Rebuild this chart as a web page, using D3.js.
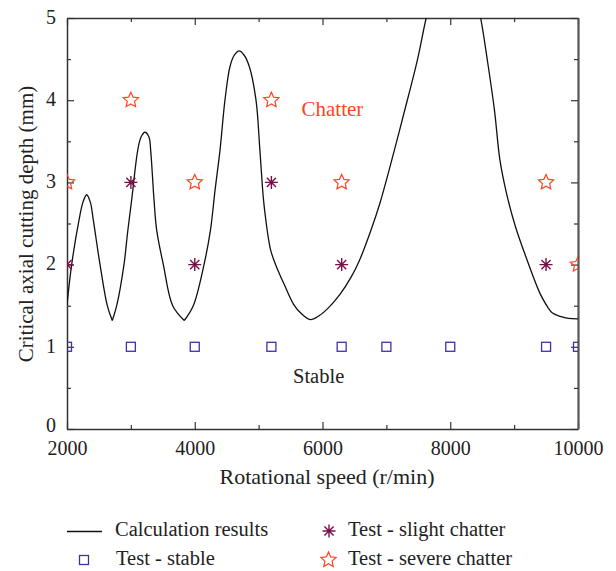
<!DOCTYPE html>
<html><head><meta charset="utf-8">
<script src="https://cdn.jsdelivr.net/npm/d3@7"></script>
<style>body{margin:0;background:#fff}svg{display:block}text{font-family:"Liberation Serif","DejaVu Serif",serif;fill:#222}</style>
</head><body><svg id="c" width="616" height="571"></svg>
<script>
// ---- data ----
const xMajorTicks = [2000, 4000, 6000, 8000, 10000];
const yMajorTicks = [0, 1, 2, 3, 4, 5];
// calculated stability lobes (branch index splits the curve at cusps)
const calcSpeed = [2000,2073,2188,2250,2308,2365,2412,2517,2631,2709,
  2709,2778,2892,2950,3013,3107,3158,3221,3284,3310,3362,3404,3508,3655,3836,
  3836,3977,4145,4246,4317,4395,4473,4552,4622,4697,4771,4854,4959,5020,5075,5125,5155,5190,5260,5330,5400,5545,5660,5810,5950,6100,6276,6450,6578,6750,6900,7050,7278,7486,7623,7850,8050,8280,8476,8580,8692,8778,8880,9021,9201,9405,9535,
  9535,9600,9721,9850,10000];
const calcDepth = [1.51,2.00,2.54,2.76,2.85,2.76,2.54,2.00,1.50,1.32,
  1.32,1.50,2.00,2.40,2.79,3.39,3.55,3.61,3.55,3.39,2.79,2.42,2.00,1.50,1.32,
  1.32,1.50,2.00,2.42,2.90,3.39,4.00,4.41,4.55,4.60,4.55,4.41,4.00,3.39,2.80,2.47,2.31,2.17,2.01,1.88,1.76,1.52,1.41,1.33,1.38,1.48,1.64,1.85,2.05,2.40,2.75,3.17,3.85,4.49,5.00,5.70,5.95,5.70,5.00,4.49,3.88,3.27,2.87,2.46,2.06,1.65,1.47,
  1.47,1.41,1.37,1.345,1.34];
const calcBranch = [0,0,0,0,0,0,0,0,0,0,
  1,1,1,1,1,1,1,1,1,1,1,1,1,1,1,
  2,2,2,2,2,2,2,2,2,2,2,2,2,2,2,2,2,2,2,2,2,2,2,2,2,2,2,2,2,2,2,2,2,2,2,2,2,2,2,2,2,2,2,2,2,2,2,
  3,3,3,3,3];
const stableSpeed = [2000,3000,4000,5200,6300,7000,8000,9500,10000];
const stableDepth = [1,1,1,1,1,1,1,1,1];
const slightSpeed = [2000,3000,4000,5200,6300,9500];
const slightDepth = [2,3,2,3,2,2];
const severeSpeed = [2000,3000,4000,5200,6300,9500,10000];
const severeDepth = [3,4,3,4,3,3,2];
const legendLabels = ["Calculation results","Test - stable","Test - slight chatter","Test - severe chatter"];

// ---- layout ----
const svg = d3.select("#c");
const L = 67, R = 578, T = 18, B = 429;
const x = d3.scaleLinear().domain([2000,10000]).range([L,R]);
const y = d3.scaleLinear().domain([0,5]).range([B,T]);
const cSquare = "#3d33a6", cAst = "#7a1048", cStar = "#ff4422";

svg.append("clipPath").attr("id","clip").append("rect")
  .attr("x",L).attr("y",T).attr("width",R-L).attr("height",B-T);

// axes
const xMinor = d3.range(3000,10000,2000);
const yMinor = d3.range(0.5,5,1);
function styleAxis(g){
  g.selectAll(".domain").attr("stroke","#333").attr("stroke-width",1.5);
  g.selectAll(".tick line").attr("stroke","#333").attr("stroke-width",1.2);
  g.selectAll("text").attr("font-size",20).attr("font-family",'"Liberation Serif",serif').attr("fill","#222");
}
function axisPair(gen, scale, major, minor, tf, showLabels){
  const g = svg.append("g").attr("transform",tf);
  g.call(gen(scale).tickValues(major).tickSizeInner(-7).tickSizeOuter(0).tickPadding(showLabels?11:0)
    .tickFormat(showLabels? d3.format("d") : ""));
  g.call(s=>styleAxis(s));
  const g2 = svg.append("g").attr("transform",tf);
  g2.call(gen(scale).tickValues(minor).tickSizeInner(-4).tickSizeOuter(0).tickFormat(""));
  g2.select(".domain").remove();
  g2.call(s=>styleAxis(s));
  return g;
}
const bAx = axisPair(d3.axisBottom, x, xMajorTicks, xMinor, `translate(0,${B})`, true);
bAx.selectAll(".tick text").attr("dy","0.74em");
axisPair(d3.axisTop, x, xMajorTicks, xMinor, `translate(0,${T})`, false);
const lAx = axisPair(d3.axisLeft, y, yMajorTicks, yMinor, `translate(${L},0)`, true);
lAx.selectAll(".tick text").attr("dy", d => d === 0 ? "0.1em" : "0.26em");
const rAx = axisPair(d3.axisRight, y, yMajorTicks, yMinor, `translate(${R},0)`, false);
rAx.select(".domain").attr("stroke","#555").attr("stroke-width",2.2);

// axis titles
svg.append("text").attr("x",327).attr("y",484).attr("text-anchor","middle")
  .attr("font-size",22).text("Rotational speed (r/min)");
svg.append("text").attr("transform","translate(33,224) rotate(-90)").attr("text-anchor","middle")
  .attr("font-size",21).text("Critical axial cutting depth (mm)");

// region labels
svg.append("text").attr("x",301.5).attr("y",115.5).attr("font-size",21).style("fill",cStar).text("Chatter");
svg.append("text").attr("x",293).attr("y",382.5).attr("font-size",20.5).text("Stable");

// curve
const plot = svg.append("g").attr("clip-path","url(#clip)");
const pts = calcSpeed.map((s,i)=>({s, d:calcDepth[i], b:calcBranch[i]}));
const line = d3.line().x(p=>x(p.s)).y(p=>y(p.d)).curve(d3.curveCatmullRom.alpha(0.5));
d3.groups(pts, p=>p.b).forEach(([b,arr])=>{
  plot.append("path").attr("d",line(arr)).attr("fill","none").attr("stroke","#111").attr("stroke-width",1.3);
});

// marker drawers
function squareAt(g,cx,cy){
  g.append("rect").attr("x",cx-4.5).attr("y",cy-4.5).attr("width",9).attr("height",9)
    .attr("fill","none").attr("stroke",cSquare).attr("stroke-width",1.3);
}
function asteriskAt(g,cx,cy){
  const r=6.5, p=d3.path();
  for(let k=0;k<4;k++){const a=k*Math.PI/4; p.moveTo(cx-r*Math.cos(a),cy-r*Math.sin(a)); p.lineTo(cx+r*Math.cos(a),cy+r*Math.sin(a));}
  g.append("path").attr("d",p.toString()).attr("stroke",cAst).attr("stroke-width",1.4).attr("fill","none");
}
function starAt(g,cx,cy){
  const ro=8, ri=3.8, p=d3.path();
  for(let k=0;k<10;k++){const r=k%2?ri:ro, a=-Math.PI/2+k*Math.PI/5;
    const px=cx+r*Math.cos(a), py=cy+r*Math.sin(a); k?p.lineTo(px,py):p.moveTo(px,py);}
  p.closePath();
  g.append("path").attr("d",p.toString()).attr("stroke",cStar).attr("stroke-width",1.2).attr("fill","none").attr("stroke-linejoin","miter");
}
stableSpeed.forEach((s,i)=>squareAt(plot,x(s),y(stableDepth[i])));
slightSpeed.forEach((s,i)=>asteriskAt(plot,x(s),y(slightDepth[i])));
severeSpeed.forEach((s,i)=>starAt(plot,x(s),y(severeDepth[i])));

// legend
const lg = svg.append("g");
lg.append("line").attr("x1",67).attr("x2",102).attr("y1",531.5).attr("y2",531.5).attr("stroke","#111").attr("stroke-width",1.3);
squareAt(lg,84,560);
asteriskAt(lg,329,531);
starAt(lg,328.5,560);
[[115,536],[116,565],[348,536],[348,565]].forEach(([tx,ty],i)=>{
  lg.append("text").attr("x",tx).attr("y",ty).attr("font-size",20.5).text(legendLabels[i]);
});
</script></body></html>
